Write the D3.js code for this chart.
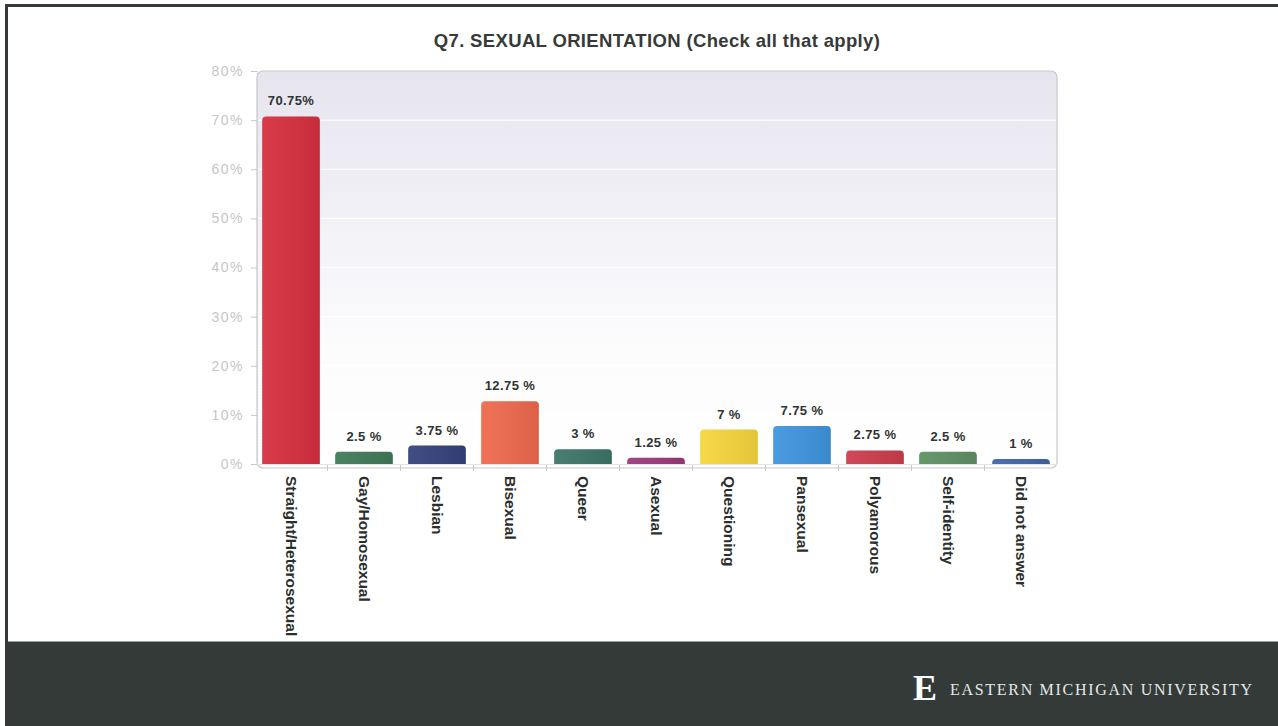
<!DOCTYPE html>
<html>
<head>
<meta charset="utf-8">
<script src="https://cdn.jsdelivr.net/npm/d3@7"></script>
<style>
  html, body { margin: 0; padding: 0; background: #ffffff; }
  svg { display: block; }
</style>
</head>
<body>
<svg id="chart" width="1278" height="726"></svg>
<script>
// Survey responses, Q7 sexual orientation (percent of respondents, multiple answers allowed)
const categories = [
  "Straight/Heterosexual", "Gay/Homosexual", "Lesbian", "Bisexual", "Queer",
  "Asexual", "Questioning", "Pansexual", "Polyamorous", "Self-identity", "Did not answer"
];
const percents = [70.75, 2.5, 3.75, 12.75, 3, 1.25, 7, 7.75, 2.75, 2.5, 1];
const valueLabels = ["70.75%", "2.5 %", "3.75 %", "12.75 %", "3 %", "1.25 %", "7 %", "7.75 %", "2.75 %", "2.5 %", "1 %"];
const barColors = [
  "#d62f3e", "#3f7b58", "#35427b", "#ee694c", "#3b7668", "#9a3a7c",
  "#f6d53c", "#3f94de", "#cc3d4d", "#5d9161", "#3f65aa"
];
const yTicks = [0, 10, 20, 30, 40, 50, 60, 70, 80];
const titleText = "Q7. SEXUAL ORIENTATION (Check all that apply)";
const footerText = "EASTERN MICHIGAN UNIVERSITY";

const svg = d3.select("#chart");
const W = 1278, H = 726;

// page frame and footer band
svg.append("rect").attr("x", 0).attr("y", 0).attr("width", W).attr("height", H).attr("fill", "#ffffff");
svg.append("rect").attr("x", 5).attr("y", 4).attr("width", W - 5).attr("height", 3).attr("fill", "#353b39");
svg.append("rect").attr("x", 5).attr("y", 4).attr("width", 3).attr("height", 640).attr("fill", "#353b39");
svg.append("rect").attr("x", 5).attr("y", 642).attr("width", W - 5).attr("height", H - 642).attr("fill", "#343a38");
svg.append("line").attr("x1", 8).attr("x2", W).attr("y1", 641.5).attr("y2", 641.5)
  .attr("stroke", "#9a9e9c").attr("stroke-width", 1);

// footer wordmark
svg.append("text")
  .attr("x", 913).attr("y", 700)
  .attr("font-family", "Liberation Serif, serif")
  .attr("font-weight", "bold")
  .attr("font-size", 36)
  .attr("fill", "#ffffff")
  .text("E");
svg.append("text")
  .attr("x", 950).attr("y", 695)
  .attr("font-family", "Liberation Serif, serif")
  .attr("font-size", 16)
  .attr("letter-spacing", 1.7)
  .attr("fill", "#e6e8e7")
  .text(footerText);

// title
svg.append("text")
  .attr("x", 657).attr("y", 47)
  .attr("text-anchor", "middle")
  .attr("font-family", "Liberation Sans, Arial, sans-serif")
  .attr("font-weight", "bold")
  .attr("font-size", 18.5)
  .attr("letter-spacing", 0.35)
  .attr("fill", "#363a39")
  .text(titleText);

// scales
const plot = { left: 257, right: 1057, top: 71, bottom: 464 };
const x = d3.scaleBand().domain(categories).range([254.5, 1057.5]).paddingInner(0.21).paddingOuter(0.105);
const y = d3.scaleLinear().domain([0, 80]).range([plot.bottom, plot.top]);

// plot background: pale lavender fading to white
const defs = svg.append("defs");
const grad = defs.append("linearGradient").attr("id", "plotBg").attr("x1", 0).attr("y1", 0).attr("x2", 0).attr("y2", 1);
grad.append("stop").attr("offset", "0%").attr("stop-color", "#e6e5ee");
grad.append("stop").attr("offset", "35%").attr("stop-color", "#f1f0f6");
grad.append("stop").attr("offset", "70%").attr("stop-color", "#fcfcfd");
grad.append("stop").attr("offset", "100%").attr("stop-color", "#ffffff");

// subtle side-lit shading for the bars
const shade = defs.append("linearGradient").attr("id", "barShade").attr("x1", 0).attr("y1", 0).attr("x2", 1).attr("y2", 0);
shade.append("stop").attr("offset", "0%").attr("stop-color", "#ffffff").attr("stop-opacity", 0.06);
shade.append("stop").attr("offset", "100%").attr("stop-color", "#000000").attr("stop-opacity", 0.08);

svg.append("rect")
  .attr("x", plot.left).attr("y", plot.top)
  .attr("width", plot.right - plot.left).attr("height", plot.bottom - plot.top + 4)
  .attr("rx", 6)
  .attr("fill", "url(#plotBg)")
  .attr("stroke", "#c9c9cf").attr("stroke-width", 1.2);

// faint white grid lines
svg.append("g").selectAll("line")
  .data(yTicks.filter(t => t > 0 && t < 80))
  .join("line")
  .attr("x1", plot.left + 1).attr("x2", plot.right - 1)
  .attr("y1", d => y(d)).attr("y2", d => y(d))
  .attr("stroke", "#ffffff").attr("stroke-width", 1.2);

// y axis
const yAxis = svg.append("g")
  .attr("transform", `translate(${plot.left},0)`)
  .call(d3.axisLeft(y).tickValues(yTicks).tickFormat(d => d + "%").tickSize(6).tickPadding(7));
yAxis.select(".domain").attr("stroke", "#d0d0d0").attr("stroke-dasharray", "2,1");
yAxis.selectAll(".tick line").attr("stroke", "#c8c8c8");
yAxis.selectAll(".tick text")
  .attr("font-family", "Liberation Sans, Arial, sans-serif")
  .attr("font-size", 14)
  .attr("letter-spacing", 1.5)
  .attr("fill", "#c6c6c6");

// x axis ticks at band boundaries
const boundaries = categories.slice(1).map(c => x(c) - x.step() * x.paddingInner() / 2);
svg.append("g").selectAll("line")
  .data(boundaries)
  .join("line")
  .attr("x1", d => d).attr("x2", d => d)
  .attr("y1", plot.bottom + 1).attr("y2", plot.bottom + 7)
  .attr("stroke", "#c8c8c8");
svg.append("line")
  .attr("x1", plot.left).attr("x2", plot.right)
  .attr("y1", plot.bottom + 0.5).attr("y2", plot.bottom + 0.5)
  .attr("stroke", "#e4e4e4");

// bars with rounded tops
function barPath(x0, w, yTop, yBase, r) {
  const h = yBase - yTop;
  const rr = Math.min(r, h, w / 2);
  return `M${x0},${yBase}V${yTop + rr}Q${x0},${yTop} ${x0 + rr},${yTop}` +
         `H${x0 + w - rr}Q${x0 + w},${yTop} ${x0 + w},${yTop + rr}V${yBase}Z`;
}
const data = categories.map((c, i) => ({ c, v: percents[i], label: valueLabels[i], color: barColors[i] }));

const bars = svg.append("g");
bars.selectAll("path.bar")
  .data(data)
  .join("path")
  .attr("class", "bar")
  .attr("d", d => barPath(x(d.c), x.bandwidth(), y(d.v), y(0), 4))
  .attr("fill", d => d.color);
bars.selectAll("path.shade")
  .data(data)
  .join("path")
  .attr("class", "shade")
  .attr("d", d => barPath(x(d.c), x.bandwidth(), y(d.v), y(0), 4))
  .attr("fill", "url(#barShade)");

// value labels above bars
svg.append("g").selectAll("text")
  .data(data)
  .join("text")
  .attr("x", d => x(d.c) + x.bandwidth() / 2)
  .attr("y", d => y(d.v) - 11)
  .attr("text-anchor", "middle")
  .attr("font-family", "Liberation Sans, Arial, sans-serif")
  .attr("font-weight", "bold")
  .attr("font-size", 13)
  .attr("letter-spacing", 0.4)
  .attr("fill", "#2f3432")
  .text(d => d.label);

// rotated category labels
svg.append("g").selectAll("text")
  .data(categories)
  .join("text")
  .attr("transform", d => `translate(${x(d) + x.bandwidth() / 2},${plot.bottom + 12}) rotate(90)`)
  .attr("dy", "0.35em")
  .attr("text-anchor", "start")
  .attr("font-family", "Liberation Sans, Arial, sans-serif")
  .attr("font-weight", "bold")
  .attr("font-size", 15.5)
  .attr("fill", "#2a2e2d")
  .text(d => d);
</script>
</body>
</html>
